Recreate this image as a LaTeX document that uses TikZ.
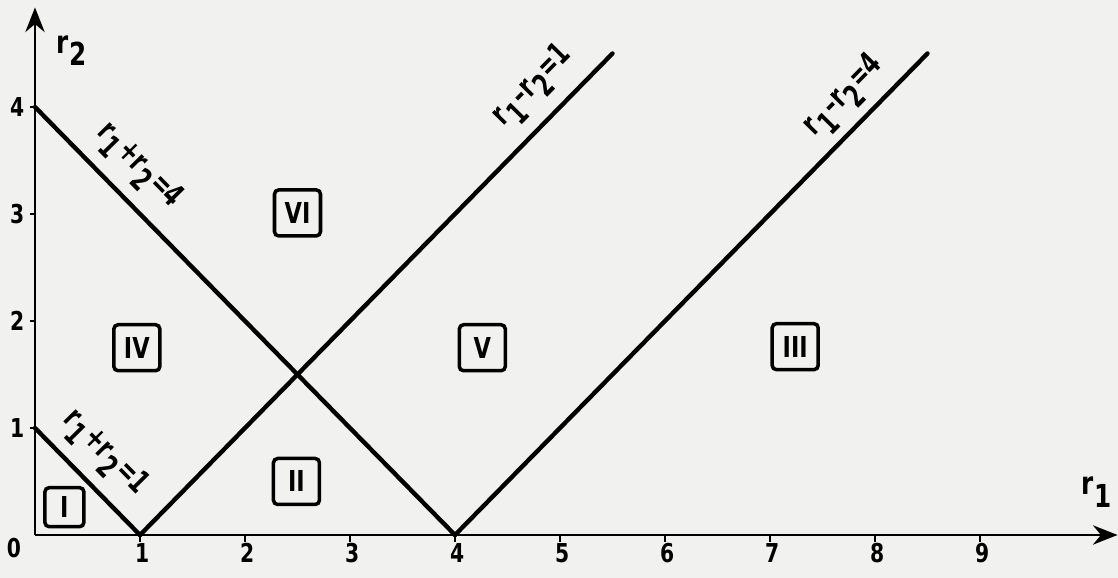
\documentclass[tikz,border=0pt]{standalone}
\usepackage{fontspec}
\setmainfont[FakeStretch=0.78]{DejaVu Sans}
\newfontfamily\narrowfont[FakeStretch=0.68]{DejaVu Sans}
\usetikzlibrary{arrows.meta}
\definecolor{paper}{RGB}{241,241,239}
\newcommand{\lo}[1]{\kern0.03em\raisebox{-0.7ex}{#1}\kern0.03em}
\begin{document}
\begin{tikzpicture}[x=1.05cm,y=1.07cm,
  font=\bfseries\fontsize{7.4}{8}\selectfont,
  axis/.style={line width=0.7pt,-{Stealth[length=7pt,width=5.5pt]}},
  bound/.style={line width=1.25pt,line cap=round},
  region/.style={draw,line width=1pt,rounded corners=1.2pt,minimum size=0.46cm,inner sep=0pt,font=\bfseries\fontsize{8.2}{9}\selectfont},
  tickmark/.style={line width=0.7pt},
  ticklab/.style={inner sep=0pt},
  linelab/.style={inner sep=0pt,font=\narrowfont\bfseries\fontsize{9}{10}\selectfont}]
\fill[paper] (-0.3333,-0.4019) rectangle (10.3143,5.0);
\useasboundingbox (-0.3333,-0.4019) rectangle (10.3143,5.0);
% axes
\coordinate (O) at (0,0);
\coordinate (xend) at (10.31,0);
\coordinate (yend) at (0,4.93);
\draw[axis] (O) -- (xend);
\draw[axis] (O) -- (yend);
\node[ticklab,font=\bfseries\fontsize{9}{10}\selectfont] (xlab) at (10.114,0.40) {r\lo{1}};
\node[ticklab,font=\bfseries\fontsize{9}{10}\selectfont] (ylab) at (0.352,4.53) {r\lo{2}};
% ticks
\foreach \x in {1,...,9} {
  \coordinate (xt\x) at (\x,0);
  \coordinate (xb\x) at (\x,-0.07);
  \draw[tickmark] (xt\x) -- (xb\x);
  \node[ticklab] (xn\x) at (\x+0.02,-0.168) {\x};
}
\foreach \y in {1,...,4} {
  \coordinate (yt\y) at (0,\y);
  \coordinate (yb\y) at (-0.05,\y);
  \draw[tickmark] (yt\y) -- (yb\y);
  \node[ticklab,anchor=east] (yn\y) at (-0.095,\y) {\y};
}
\node[ticklab] (zero) at (-0.2,-0.12) {0};
% boundary lines
\coordinate (a4) at (0,4);
\coordinate (b4) at (4,0);
\coordinate (a1) at (0,1);
\coordinate (b1) at (1,0);
\coordinate (t1) at (5.5,4.5);
\coordinate (t4) at (8.5,4.5);
\draw[bound] (a4) -- (b4);
\draw[bound] (a1) -- (b1);
\draw[bound] (b1) -- (t1);
\draw[bound] (b4) -- (t4);
% line labels
\node[linelab,rotate=-45.5] (l4) at (0.981,3.439) {r\lo{1}+r\lo{2}=4};
\node[linelab,rotate=-45.5] (l1) at (0.657,0.757) {r\lo{1}+r\lo{2}=1};
\node[linelab,rotate=45.5] (m1) at (4.752,4.187) {r\lo{1}\textendash r\lo{2}=1};
\node[linelab,rotate=45.5] (m4) at (7.714,4.093) {r\lo{1}\textendash r\lo{2}=4};
% regions
\node[region,minimum size=0.39cm] (R1) at (0.28,0.26) {I};
\node[region] (R2) at (2.49,0.50) {II};
\node[region] (R3) at (7.24,1.76) {III};
\node[region] (R4) at (0.97,1.75) {IV};
\node[region] (R5) at (4.26,1.75) {V};
\node[region] (R6) at (2.50,3.01) {VI};
\end{tikzpicture}
\end{document}
